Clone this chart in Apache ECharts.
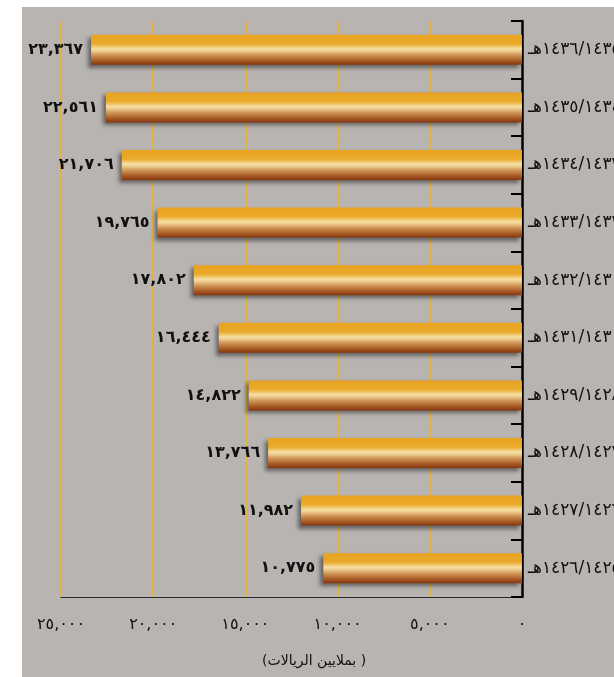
<!DOCTYPE html>
<html>
<head>
<meta charset="utf-8">
<script src="https://cdn.jsdelivr.net/npm/echarts@6/dist/echarts.min.js"></script>
<style>
  html, body { margin: 0; padding: 0; background: #ffffff; }
  #wrap { position: relative; width: 614px; height: 677px; }
  #panel { position: absolute; left: 22px; top: 7px; width: 592px; height: 670px; background: #b8b4b2; }
  #chart { position: absolute; left: 0; top: 0; width: 614px; height: 677px; }
</style>
</head>
<body>
<div id="wrap">
  <div id="panel"></div>
  <div id="chart"></div>
</div>
<script>
// Fiscal years (Hijri), oldest first so the newest sits at the top
const years = [
  '١٤٢٦/١٤٢٥هـ',
  '١٤٢٧/١٤٢٦هـ',
  '١٤٢٨/١٤٢٧هـ',
  '١٤٢٩/١٤٢٨هـ',
  '١٤٣١/١٤٣٠هـ',
  '١٤٣٢/١٤٣١هـ',
  '١٤٣٣/١٤٣٢هـ',
  '١٤٣٤/١٤٣٣هـ',
  '١٤٣٥/١٤٣٤هـ',
  '١٤٣٦/١٤٣٥هـ'
];
// Amounts in millions of riyals
const amounts = [10775, 11982, 13766, 14822, 16444, 17802, 19765, 21706, 22561, 23367];
// Value-axis tick labels, indexed by value / 5000
const xTickLabels = ['٠', '٥,٠٠٠', '١٠,٠٠٠', '١٥,٠٠٠', '٢٠,٠٠٠', '٢٥,٠٠٠'];
const unitLabel = '(بملايين الريالات )';

const arabicDigits = '٠١٢٣٤٥٦٧٨٩';
function toArabicNumber(n) {
  const s = String(n).replace(/\B(?=(\d{3})+(?!\d))/g, ',');
  return s.replace(/[0-9]/g, d => arabicDigits[+d]);
}

const FONT = "'DejaVu Sans', sans-serif";

const barFill = new echarts.graphic.LinearGradient(0, 0, 0, 1, [
  { offset: 0.00, color: '#e8a21f' },
  { offset: 0.30, color: '#eaaa2c' },
  { offset: 0.47, color: '#f6dea2' },
  { offset: 0.55, color: '#ecc98e' },
  { offset: 0.68, color: '#cf9456' },
  { offset: 0.85, color: '#aa5e26' },
  { offset: 1.00, color: '#873510' }
]);

const chart = echarts.init(document.getElementById('chart'), null, { renderer: 'canvas' });
chart.setOption({
  backgroundColor: 'transparent',
  animation: false,
  grid: { left: 61, right: 92, top: 21, bottom: 80, containLabel: false, outerBoundsMode: 'none' },
  xAxis: {
    type: 'value',
    inverse: true,
    min: 0,
    max: 25000,
    interval: 5000,
    axisLine: { show: true, lineStyle: { color: '#2a2a2a', width: 1 } },
    axisTick: { show: false },
    splitLine: { show: true, lineStyle: { color: '#e2b344', width: 2 } },
    axisLabel: {
      margin: 20,
      color: '#111',
      fontFamily: FONT,
      fontSize: 16,
      formatter: v => xTickLabels[Math.round(v / 5000)]
    }
  },
  yAxis: {
    type: 'category',
    position: 'right',
    data: years,
    axisLine: { show: true, lineStyle: { color: '#000', width: 2.5 } },
    axisTick: { show: true, inside: true, length: 11, lineStyle: { color: '#000', width: 2 } },
    splitLine: { show: false },
    axisLabel: {
      margin: 6,
      color: '#111',
      fontFamily: FONT,
      fontSize: 17,
      align: 'left'
    }
  },
  series: [{
    type: 'bar',
    data: amounts,
    barWidth: 30,
    itemStyle: {
      color: barFill,
      shadowColor: 'rgba(0,0,0,0.45)',
      shadowBlur: 4,
      shadowOffsetX: -3,
      shadowOffsetY: 3
    },
    label: {
      show: true,
      position: 'left',
      distance: 8,
      color: '#111',
      fontFamily: FONT,
      fontWeight: 'bold',
      fontSize: 16,
      formatter: p => toArabicNumber(p.value)
    }
  }],
  graphic: [{
    type: 'text',
    left: 262,
    top: 654,
    style: {
      text: unitLabel,
      fill: '#111',
      font: "14px 'DejaVu Sans', sans-serif"
    }
  }]
});
</script>
</body>
</html>
